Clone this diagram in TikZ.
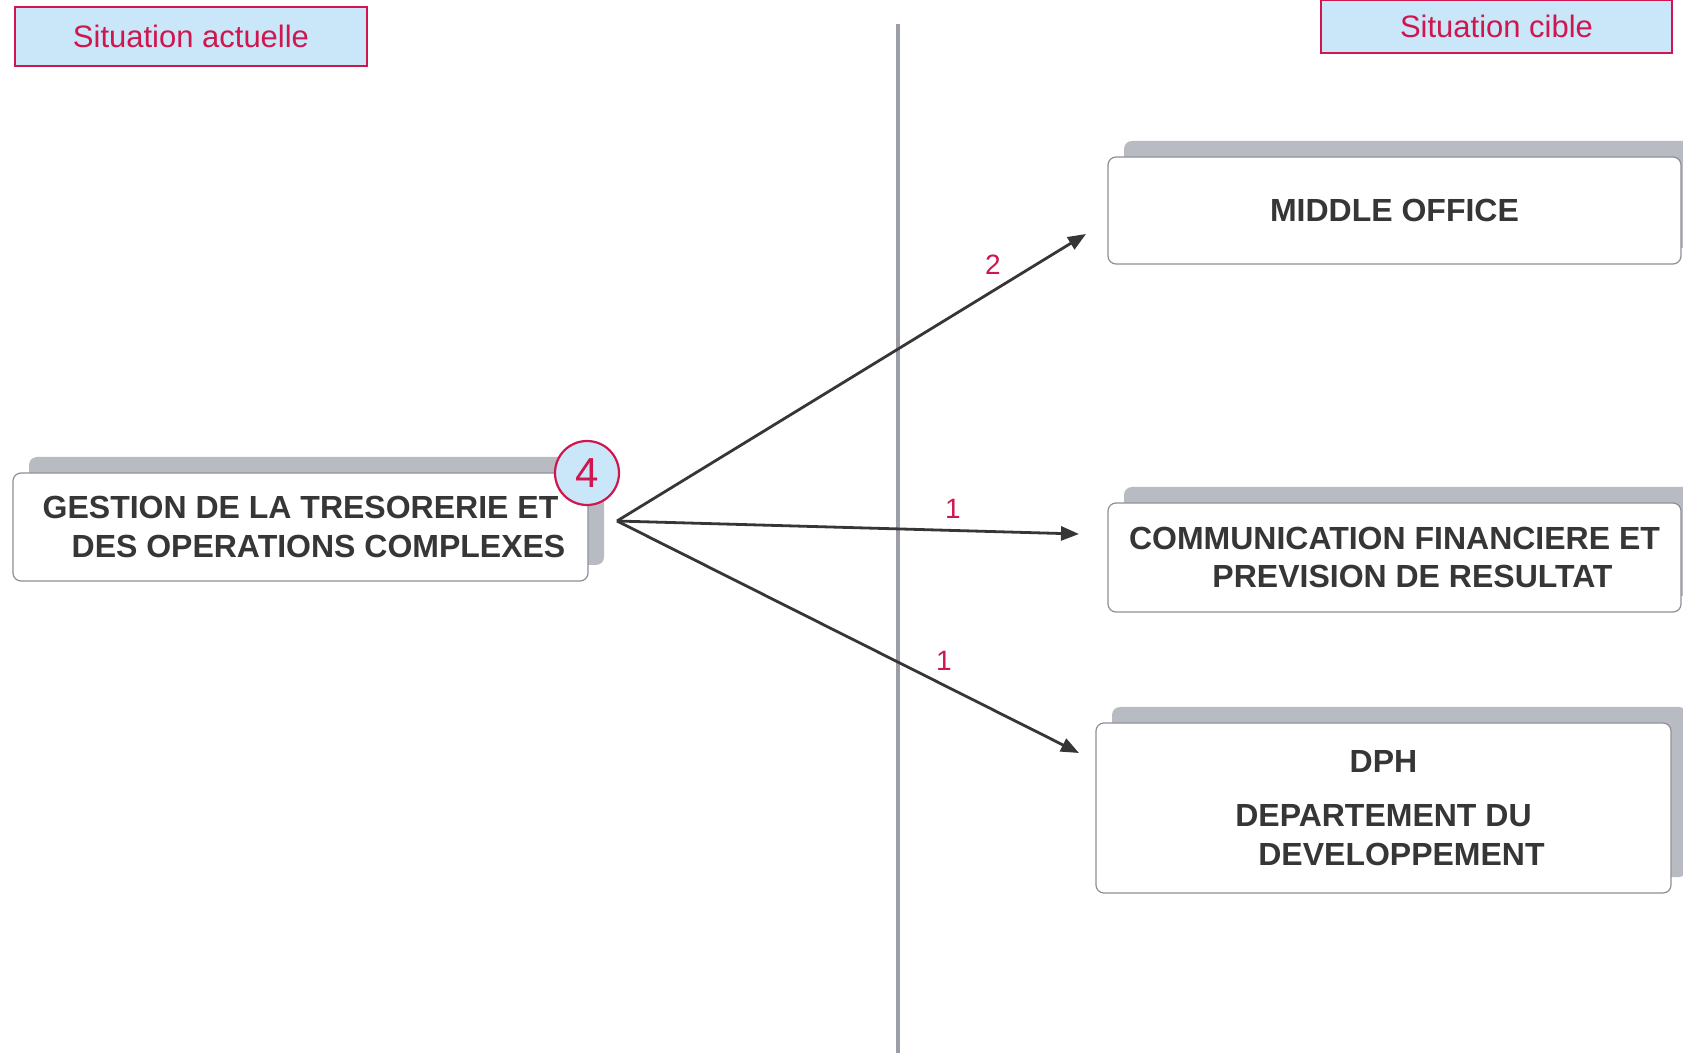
\documentclass[tikz,border=0pt]{standalone}
\usepackage{fontspec}
\setmainfont{Liberation Sans}
\usetikzlibrary{arrows.meta,shadows}
\definecolor{crim}{HTML}{D0164E}
\definecolor{lblue}{HTML}{C9E7F8}
\definecolor{txt}{HTML}{363636}
\definecolor{bordergray}{HTML}{8C8F96}
\definecolor{shadowgray}{HTML}{B8BBC2}
\definecolor{linegray}{HTML}{9B9EA4}
\begin{document}
\begin{tikzpicture}[x=0.5pt,y=-0.5pt,
  sitbox/.style={draw=crim, line width=1.2pt, fill=lblue, text=crim,
    font=\fontsize{15.5}{18}\selectfont, inner sep=0pt},
  unitbox/.style={draw=bordergray, line width=0.6pt, fill=white, rounded corners=4pt,
    text=txt, font=\bfseries\fontsize{16}{19.3}\selectfont, align=center, inner sep=0pt,
    copy shadow={shadow xshift=8pt, shadow yshift=8pt, fill=shadowgray, draw=none}},
  badge/.style={circle, draw=crim, line width=1.1pt, fill=lblue, text=crim,
    minimum size=32pt, inner sep=0pt, font=\fontsize{21}{21}\selectfont},
  conn/.style={draw=txt, line width=1.4pt, -{Triangle[length=9pt,width=7pt]}},
  numlab/.style={text=crim, font=\fontsize{14}{14}\selectfont}]
\useasboundingbox[fill=white] (0,0) rectangle (1683,1053);

% divider
\draw[linegray, line width=2pt] (898,24) -- (898,1053);

% header labels
\node[sitbox, minimum width=176pt, minimum height=29.5pt] (actu) at (191,36.5) {Situation actuelle};
\node[sitbox, minimum width=175.5pt, minimum height=26.5pt] (cible) at (1496.5,26.5) {Situation cible};

% boxes
\node[unitbox, minimum width=287.5pt, minimum height=54pt] (gest) at (300.5,527)
  {GESTION DE LA TRESORERIE ET\\\hspace*{18pt}DES OPERATIONS COMPLEXES};
\node[unitbox, minimum width=286.5pt, minimum height=53.5pt] (mo) at (1394.5,210.5)
  {MIDDLE OFFICE};
\node[unitbox, minimum width=286.5pt, minimum height=54.5pt] (comm) at (1394.5,557.5)
  {COMMUNICATION FINANCIERE ET\\\hspace*{18pt}PREVISION DE RESULTAT};
\node[unitbox, minimum width=287.5pt, minimum height=85pt] (dph) at (1383.5,808)
  {DPH\\[8pt]DEPARTEMENT DU\\\hspace*{18pt}DEVELOPPEMENT};

\node[badge] (four) at (587,473) {4};

% connectors
\coordinate (src) at (617,521);
\coordinate (emo) at (1086,234);
\coordinate (ecomm) at (1079,534);
\coordinate (edph) at (1079,753);
\draw[conn] (src) -- (emo);
\draw[conn] (src) -- (ecomm);
\draw[conn] (src) -- (edph);

\node[numlab] (n2) at (993,265) {2};
\node[numlab] (n1a) at (953,509) {1};
\node[numlab] (n1b) at (944,661) {1};
\end{tikzpicture}
\end{document}
